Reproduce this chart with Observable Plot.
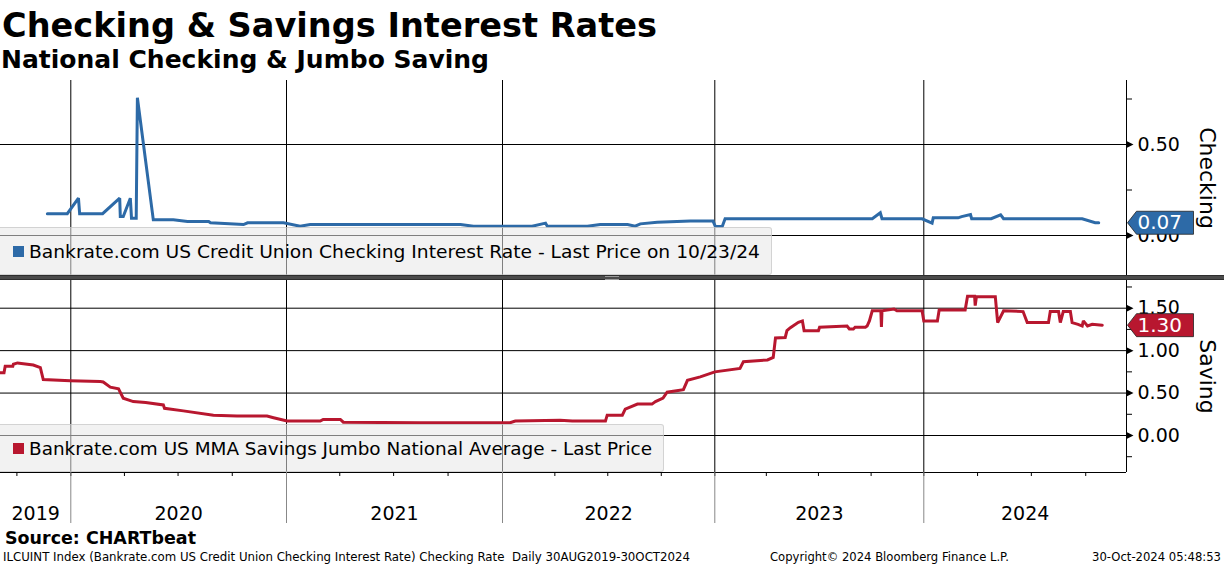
<!DOCTYPE html>
<html><head><meta charset="utf-8">
<script src="https://cdn.jsdelivr.net/npm/d3@7"></script>
<script src="https://cdn.jsdelivr.net/npm/@observablehq/plot@0.6"></script>
<style>
body{margin:0;background:#fff;}
#wrap{position:relative;width:1224px;height:566px;overflow:hidden;font-family:"DejaVu Sans",sans-serif;color:#000;background:#fff;}
.abs{position:absolute;white-space:pre;line-height:1;transform-origin:0 0;}
.plot{position:absolute;left:0;}
.legbox{position:absolute;left:0;background:rgba(232,232,232,0.55);border:1px solid rgba(190,190,190,0.6);border-left:none;border-radius:0 3px 3px 0;box-sizing:border-box;}
.sq{position:absolute;width:11px;height:11px;}
</style></head>
<body><div id="wrap"></div>
<script>
// ---------------- data ----------------
const checkDates = ["2019-11-22","2019-12-26","2020-01-14","2020-01-16","2020-02-24","2020-03-24","2020-03-25","2020-03-30","2020-04-11","2020-04-13","2020-04-21","2020-04-23","2020-05-20","2020-06-23","2020-07-17","2020-08-22","2020-08-25","2020-10-20","2020-10-27","2020-12-27","2021-01-24","2021-02-10","2021-10-22","2021-11-13","2022-02-21","2022-03-16","2022-03-19","2022-05-27","2022-06-18","2022-08-04","2022-08-17","2022-08-26","2022-09-24","2022-11-20","2022-12-29","2023-01-02","2023-01-14","2023-01-19","2023-10-03","2023-10-17","2023-10-20","2023-12-29","2024-01-15","2024-01-17","2024-02-28","2024-03-05","2024-03-20","2024-03-22","2024-04-24","2024-05-10","2024-05-15","2024-09-25","2024-10-17","2024-10-23"];
const checkValues = [0.12,0.12,0.205,0.12,0.12,0.205,0.104,0.104,0.205,0.095,0.095,0.757,0.086,0.086,0.077,0.077,0.07,0.06,0.07,0.07,0.051,0.06,0.06,0.051,0.051,0.068,0.051,0.051,0.06,0.06,0.051,0.064,0.073,0.079,0.079,0.049,0.049,0.092,0.092,0.125,0.092,0.092,0.068,0.097,0.097,0.104,0.115,0.092,0.092,0.114,0.092,0.092,0.07,0.07];

const saveDates = ["2019-09-03","2019-09-09","2019-09-11","2019-09-24","2019-09-25","2019-10-02","2019-10-29","2019-11-10","2019-11-15","2019-12-31","2020-02-20","2020-02-25","2020-03-08","2020-03-22","2020-03-30","2020-04-16","2020-05-07","2020-06-06","2020-06-08","2020-07-10","2020-08-30","2020-10-09","2020-11-29","2020-12-10","2021-01-02","2021-02-27","2021-03-04","2021-04-02","2021-04-07","2021-08-15","2022-01-14","2022-01-23","2022-04-10","2022-05-01","2022-06-27","2022-06-30","2022-07-26","2022-07-31","2022-08-21","2022-09-15","2022-09-21","2022-10-04","2022-10-11","2022-11-08","2022-11-15","2022-12-07","2023-01-01","2023-02-14","2023-02-20","2023-04-03","2023-04-13","2023-04-17","2023-05-04","2023-05-07","2023-05-13","2023-05-27","2023-06-03","2023-06-06","2023-07-01","2023-07-03","2023-08-20","2023-08-24","2023-08-31","2023-09-03","2023-09-21","2023-09-24","2023-09-28","2023-10-03","2023-10-18","2023-10-19","2023-10-20","2023-11-10","2023-11-15","2023-12-29","2024-01-01","2024-01-24","2024-01-27","2024-03-11","2024-03-15","2024-03-27","2024-03-28","2024-03-30","2024-05-01","2024-05-05","2024-05-15","2024-06-17","2024-06-24","2024-07-30","2024-08-02","2024-08-16","2024-08-19","2024-08-24","2024-09-05","2024-09-08","2024-09-18","2024-09-25","2024-09-27","2024-10-04","2024-10-12","2024-10-29"];
const saveValues = [0.74,0.74,0.815,0.815,0.84,0.855,0.83,0.80,0.66,0.645,0.635,0.63,0.57,0.55,0.44,0.40,0.39,0.36,0.32,0.29,0.24,0.23,0.23,0.21,0.17,0.17,0.19,0.19,0.157,0.15,0.15,0.17,0.18,0.17,0.17,0.24,0.24,0.31,0.37,0.37,0.40,0.44,0.51,0.54,0.65,0.69,0.75,0.79,0.87,0.89,0.92,1.15,1.155,1.235,1.27,1.333,1.35,1.235,1.235,1.275,1.29,1.255,1.255,1.275,1.275,1.29,1.35,1.47,1.47,1.28,1.47,1.49,1.47,1.47,1.35,1.35,1.48,1.48,1.64,1.64,1.53,1.635,1.635,1.33,1.47,1.46,1.33,1.33,1.46,1.46,1.33,1.46,1.46,1.33,1.31,1.29,1.35,1.29,1.31,1.30];

const yearLabels = ["2019","2020","2021","2022","2023","2024"];
const yearStartStrings = ["2020-01-01","2021-01-01","2022-01-01","2023-01-01","2024-01-01"];
const checkTicks = [0, 0.5];
const checkMinorTicks = [0.25, 0.75];
const saveTicks = [0, 0.5, 1, 1.5];
const saveMinorTicks = [-0.25, 0.25, 0.75, 1.25, 1.75];

const titleText = "Checking & Savings Interest Rates";
const subtitleText = "National Checking & Jumbo Saving";
const checkLegend = "Bankrate.com US Credit Union Checking Interest Rate - Last Price on 10/23/24";
const saveLegend = "Bankrate.com US MMA Savings Jumbo National Average - Last Price";
const checkAxisLabel = "Checking";
const saveAxisLabel = "Saving";
const sourceText = "Source: CHARTbeat";
const footLeft = "ILCUINT Index (Bankrate.com US Credit Union Checking Interest Rate) Checking Rate  Daily 30AUG2019-30OCT2024";
const footMid = "Copyright\u00a9 2024 Bloomberg Finance L.P.";
const footRight = "30-Oct-2024 05:48:53";

// ---------------- setup ----------------
const BLUE = "#2d6aa7", RED = "#b8172f";
const FONT = "DejaVu Sans, sans-serif";
const parse = s => new Date(s + "T00:00:00Z");
const checking = checkDates.map((d, i) => ({date: parse(d), value: checkValues[i]}));
const saving = saveDates.map((d, i) => ({date: parse(d), value: saveValues[i]}));
const yearStarts = yearStartStrings.map(parse);
const xStart = parse("2019-09-03"), xEnd = parse("2024-12-09");
const xDomain = [xStart, ...yearStarts, xEnd];
const xRange = [0, 70.3, 286, 502, 714.3, 923.3, 1126];
const bounds = [xStart, ...yearStarts, xEnd];
const yearLabelData = yearLabels.map((label, i) => ({label, date: new Date((+bounds[i] + +bounds[i + 1]) / 2)}));
const quarters = d3.utcMonth.every(3).range(parse("2019-10-01"), xEnd);

const triRight = {draw(ctx) { ctx.moveTo(0, -3.5); ctx.lineTo(7, 0); ctx.lineTo(0, 3.5); ctx.closePath(); }};
const flag = {draw(ctx) { ctx.moveTo(0, 0); ctx.lineTo(9, -11.5); ctx.lineTo(66, -11.5); ctx.lineTo(66, 11.5); ctx.lineTo(9, 11.5); ctx.closePath(); }};

function panelMarks(data, ticks, minor, color, label) {
  const last = data[data.length - 1];
  return [
    Plot.ruleY(ticks, {stroke: "#000", strokeWidth: 1}),
    Plot.ruleX(yearStarts, {stroke: "#000", strokeWidth: 1}),
    Plot.ruleX([xEnd], {stroke: "#000", strokeWidth: 1}),
    Plot.line(data, {x: "date", y: "value", stroke: color, strokeWidth: 3, strokeLinejoin: "miter", strokeMiterlimit: 2}),
    Plot.axisY({anchor: "right", ticks, tickSize: 0, tickPadding: 11, tickFormat: d3.format(".2f"), fontSize: 19, label: null, fill: "#000"}),
    Plot.axisY({anchor: "right", ticks: minor, tickSize: 5, tickFormat: () => "", label: null}),
    Plot.dot(ticks, {y: d => d, frameAnchor: "right", symbol: triRight, fill: "#000", stroke: null, r: 3}),
    Plot.dot([last], {y: "value", frameAnchor: "right", dx: 1, symbol: flag, fill: color, stroke: "#222", strokeWidth: 0.8, r: 5}),
    Plot.text([last], {y: "value", frameAnchor: "right", dx: 11, text: d => d3.format(".2f")(d.value), textAnchor: "start", lineAnchor: "middle", fill: "#fff", fontSize: 20}),
    Plot.text([label], {frameAnchor: "right", dx: 81, rotate: 90, text: d => d, textAnchor: "middle", lineAnchor: "middle", fontSize: 22, fill: "#000"})
  ];
}

const wrap = document.getElementById("wrap");

// top panel: frame 80 -> 275 ; 0 at 235, 0.5 at 144
const topPlot = Plot.plot({
  width: 1224, height: 195, marginTop: 0, marginBottom: 0, marginLeft: 0, marginRight: 98,
  style: {fontFamily: FONT, background: "transparent", overflow: "visible"},
  x: {type: "utc", domain: xDomain, range: xRange, axis: null, label: null},
  y: {domain: [-40 / 182, 155 / 182], label: null},
  marks: panelMarks(checking, checkTicks, checkMinorTicks, BLUE, checkAxisLabel)
});
topPlot.classList.add("plot"); topPlot.style.top = "80px";
wrap.appendChild(topPlot);

// bottom panel: frame 280 -> 472 ; 0 at 435, 1.5 at 307.7
const sPx = 84.87;
const saveYDomain = [-37 / sPx, 155 / sPx];
const botPlot = Plot.plot({
  width: 1224, height: 243, marginTop: 0, marginBottom: 51, marginLeft: 0, marginRight: 98,
  style: {fontFamily: FONT, background: "transparent", overflow: "visible"},
  x: {type: "utc", domain: xDomain, range: xRange, label: null},
  y: {domain: saveYDomain, label: null},
  marks: [
    ...panelMarks(saving, saveTicks, saveMinorTicks, RED, saveAxisLabel),
    Plot.ruleY([saveYDomain[0]], {stroke: "#000", strokeWidth: 1}),
    Plot.axisX({anchor: "bottom", ticks: quarters, tickSize: 4, tickFormat: () => "", label: null, stroke: "#000"}),
    Plot.axisX({anchor: "bottom", ticks: yearStarts, tickSize: 51, tickFormat: () => "", label: null, stroke: "#888"}),
    Plot.text(yearLabelData, {x: "date", text: "label", frameAnchor: "bottom", dy: 47, lineAnchor: "bottom", textAnchor: "middle", fontSize: 19, fill: "#000"})
  ]
});
botPlot.classList.add("plot"); botPlot.style.top = "280px";
wrap.appendChild(botPlot);

// separator between panels
const sep = document.createElement("div");
sep.style.cssText = "position:absolute;left:0;top:275px;width:1224px;height:5px;background:#4b4b4b;border-top:1px solid #2e2e2e;border-bottom:1px solid #2e2e2e;box-sizing:border-box;";
wrap.appendChild(sep);
const grip = document.createElement("div");
grip.style.cssText = "position:absolute;left:605px;top:276px;width:14px;height:2px;border-top:1px solid #9a9a9a;border-bottom:1px solid #9a9a9a;";
wrap.appendChild(grip);

function addText(txt, {left, baseline, size, weight = 400, width, color = "#000", parent = wrap}) {
  const el = document.createElement("div");
  el.className = "abs";
  el.textContent = txt;
  el.style.fontSize = size + "px";
  el.style.fontWeight = weight;
  el.style.color = color;
  el.style.left = left + "px";
  el.style.top = (baseline - 0.846 * size) + "px";
  parent.appendChild(el);
  if (width) {
    const w = el.getBoundingClientRect().width;
    el.style.transform = `scaleX(${width / w})`;
  }
  return el;
}

// legend boxes
function legend(top, w, color, txt, textW) {
  const box = document.createElement("div");
  box.className = "legbox";
  box.style.top = top + "px"; box.style.width = w + "px"; box.style.height = "48px";
  wrap.appendChild(box);
  const sq = document.createElement("div");
  sq.className = "sq"; sq.style.background = color; sq.style.left = "13px"; sq.style.top = (top + 18.5) + "px";
  wrap.appendChild(sq);
  addText(txt, {left: 29, baseline: top + 31.2, size: 18, width: textW});
}
legend(227, 772, BLUE, checkLegend, 731);
legend(424, 664, RED, saveLegend, 623);

// titles and footer
addText(titleText, {left: 2, baseline: 37, size: 34, weight: 700, width: 655});
addText(subtitleText, {left: 1, baseline: 68, size: 24, weight: 700, width: 488});
addText(sourceText, {left: 5, baseline: 544, size: 17, weight: 700, width: 191});
addText(footLeft, {left: 3, baseline: 561, size: 12, width: 687});
addText(footMid, {left: 770, baseline: 561, size: 12, width: 239});
addText(footRight, {left: 1092, baseline: 561, size: 12, width: 129});
</script>
</body></html>
